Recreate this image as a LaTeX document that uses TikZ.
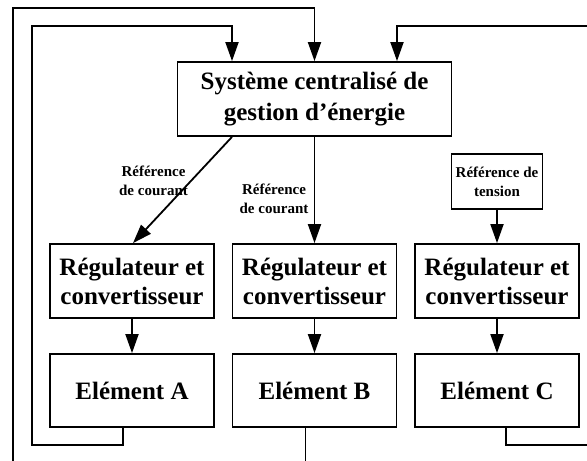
\documentclass[tikz,border=0pt]{standalone}
\usepackage{fontspec}
\setmainfont{Liberation Serif}
\usetikzlibrary{arrows.meta}

\begin{document}
\begin{tikzpicture}[x=1pt,y=-1pt,>={Triangle[length=19pt,width=13pt]},line width=1.8pt,
 box/.style={draw,align=center,inner sep=2pt,minimum width=164pt,minimum height=74pt,font=\fontsize{25}{29}\selectfont\bfseries},
 lbl/.style={align=center,inner sep=0pt,font=\fontsize{15}{19}\selectfont\bfseries}]
\useasboundingbox (0,0) rectangle (587,461);
% gestion centrale
\node[box,minimum width=274pt,font=\fontsize{25}{31}\selectfont\bfseries] (gest) at (314.5,99) {Système centralisé de\\gestion d’énergie};
\node[draw,lbl,minimum width=91pt,minimum height=55pt] (refV) at (497,181.5) {Référence de\\tension};
% regulateurs et elements
\foreach \c/\x in {A/132,B/314.5,C/497}{
 \node[box] (reg\c) at (\x,281) {Régulateur et\\convertisseur};
 \node[box,minimum height=73pt] (el\c) at (\x,390.5) {Elément \c};
 \draw[->] (reg\c) -- (el\c);
}
% references
\draw[->] ([xshift=-82.5pt]gest.south) -- ([xshift=1pt]regA.north);
\draw[->] (gest.south) -- (regB.north);
\draw[->] (refV) -- (regC);
\node[lbl] (lblA) at (153.5,181) {Référence\\de courant};
\node[lbl] (lblB) at (274,198.5) {Référence\\de courant};
% boucles de retour
\coordinate (edgeL) at (13,461);
\coordinate (cornL) at (13,8);
\draw[->] (edgeL) -- (cornL) -| (gest.north);
\coordinate (edgeB) at (305.5,461);
\draw ([xshift=-9pt]elB.south) -- (edgeB);
\coordinate (loopA) at (32,445);
\coordinate (cornA) at (32,26);
\draw[->] ([xshift=-9pt]elA.south) |- (loopA) -- (cornA) -| ([xshift=-82.5pt]gest.north);
\coordinate (edgeR1) at (587,445);
\draw ([xshift=9pt]elC.south) |- (edgeR1);
\coordinate (edgeR2) at (587,26);
\draw[->] (edgeR2) -| ([xshift=82.5pt]gest.north);
\end{tikzpicture}
\end{document}
